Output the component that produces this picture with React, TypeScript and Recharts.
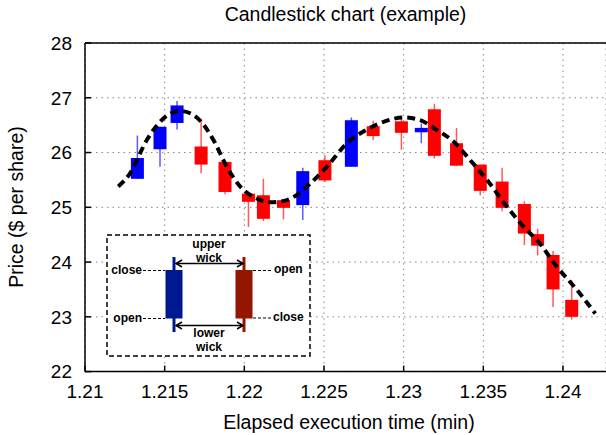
import {
  Bar,
  CartesianGrid,
  ComposedChart,
  Customized,
  Line,
  XAxis,
  YAxis
} from 'recharts';

const times = [
  1.21329, 1.21471, 1.21578, 1.21729, 1.21879, 1.22026, 1.2212, 1.22246, 1.22367, 1.22506, 1.22672,
  1.22809, 1.22986, 1.23111, 1.23193, 1.23332, 1.23481, 1.23618, 1.23758, 1.23841, 1.23938, 1.24055
];
const opens = [
  25.52, 26.06, 26.54, 26.11, 25.83, 25.25, 25.22, 25.13, 25.04, 25.86, 25.74,
  26.48, 26.57, 26.37, 26.79, 26.17, 25.78, 25.47, 25.06, 24.51, 24.13, 23.31
];
const highs = [
  26.31, 26.47, 26.94, 26.58, 25.83, 25.25, 25.52, 25.13, 25.72, 25.95, 26.64,
  26.58, 26.63, 26.53, 26.89, 26.45, 25.78, 25.72, 25.11, 24.61, 24.2, 23.67
];
const lows = [
  25.52, 25.74, 26.42, 25.62, 25.24, 24.64, 24.75, 24.78, 24.77, 25.46, 25.74,
  26.23, 26.05, 26.17, 25.89, 25.76, 25.22, 24.93, 24.31, 24.12, 23.18, 22.95
];
const closes = [
  25.9, 26.47, 26.86, 25.78, 25.28, 25.1, 24.79, 24.99, 25.66, 25.49, 26.59,
  26.3, 26.36, 26.45, 25.94, 25.76, 25.3, 24.99, 24.52, 24.3, 23.5, 23.0
];

// dashed trend curve
const fitTimes = [
  1.21209, 1.21283, 1.21388, 1.21492, 1.21597, 1.21702, 1.21806, 1.2189, 1.21974, 1.22078,
  1.22162, 1.22267, 1.22393, 1.22518, 1.22644, 1.22769, 1.22874, 1.22999, 1.23104, 1.23209,
  1.23313, 1.23418, 1.23523, 1.23649, 1.23774, 1.23837, 1.23963, 1.24088, 1.24203
];
const fitPrices = [
  25.38, 25.62, 26.23, 26.62, 26.76, 26.64, 26.23, 25.74, 25.38, 25.16,
  25.09, 25.13, 25.38, 25.74, 26.17, 26.42, 26.56, 26.64, 26.59, 26.41,
  26.2, 25.86, 25.5, 25.01, 24.58, 24.4, 23.91, 23.49, 23.06
];

const xTicks = [1.21, 1.215, 1.22, 1.225, 1.23, 1.235, 1.24];
const yTicks = [22, 23, 24, 25, 26, 27, 28];
const xDomain = [1.21, 1.2427];

const candles = times.map((t, i) => ({
  t,
  body: [Math.min(opens[i], closes[i]), Math.max(opens[i], closes[i])],
  wick: [lows[i], highs[i]],
  up: closes[i] > opens[i]
}));
const fit = fitTimes.map((t, i) => ({ t, p: fitPrices[i] }));

const FONT = '"Liberation Sans", Arial, Helvetica, sans-serif';
const tickStyle = { fontFamily: FONT, fontSize: 19, fill: '#000' };
const BODY_W = 13;

// bar spans low..high; body is placed inside it with the same px/unit
function Candle(props: any) {
  const { x, y, width, height, payload } = props;
  if (payload == null) return null;
  const [lo, hi] = payload.wick;
  const [bLo, bHi] = payload.body;
  const top = Math.min(y, y + height);
  const h = Math.abs(height);
  const k = h / (hi - lo);
  const bodyTop = top + (hi - bHi) * k;
  const bodyH = Math.max((bHi - bLo) * k, 1);
  const cx = x + width / 2;
  const col = payload.up ? '#0000ff' : '#ff0000';
  return (
    <g>
      <line x1={cx} x2={cx} y1={top} y2={top + h} stroke={col} strokeOpacity={0.65} strokeWidth={1.5} />
      <rect x={cx - BODY_W / 2} y={bodyTop} width={BODY_W} height={bodyH} fill={col} />
    </g>
  );
}

function Texts() {
  const t = { fontFamily: FONT, fontSize: 19.5, fill: '#000' };
  return (
    <g>
      <text x={345.5} y={21} textAnchor="middle" {...t}>Candlestick chart (example)</text>
      <text x={349} y={429} textAnchor="middle" {...t}>Elapsed execution time (min)</text>
      <text transform="translate(23,207) rotate(-90)" textAnchor="middle" {...t}>Price ($ per share)</text>
    </g>
  );
}

function Arrow({ y }: { y: number }) {
  return (
    <g stroke="#000" strokeWidth={1.5} fill="none">
      <line x1={176} x2={243} y1={y} y2={y} />
      <path d={`M182,${y - 3.5} L176,${y} L182,${y + 3.5}`} />
      <path d={`M237,${y - 3.5} L243,${y} L237,${y + 3.5}`} />
    </g>
  );
}

function LegendBox() {
  const lbl = { fontFamily: FONT, fontSize: 12, fontWeight: 'bold' as const, fill: '#000' };
  const dash = { stroke: '#000', strokeWidth: 1.2, strokeDasharray: '3 2' };
  return (
    <g>
      <rect x={107} y={235} width={203} height={121} fill="#fff" stroke="#000" strokeWidth={1.5} strokeDasharray="5 3" />
      <line x1={174} x2={174} y1={257} y2={332} stroke="#00188f" strokeWidth={3} />
      <rect x={165.5} y={270} width={17} height={48.5} fill="#00188f" />
      <line x1={244} x2={244} y1={257} y2={332} stroke="#941500" strokeWidth={3} />
      <rect x={235.5} y={270} width={17} height={48.5} fill="#941500" />
      <line x1={143} x2={165} y1={270.5} y2={270.5} {...dash} />
      <line x1={143} x2={165} y1={318.5} y2={318.5} {...dash} />
      <line x1={253} x2={273} y1={270.5} y2={270.5} {...dash} />
      <line x1={253} x2={272} y1={318} y2={318} {...dash} />
      <text x={142} y={274} textAnchor="end" {...lbl}>close</text>
      <text x={142} y={322} textAnchor="end" {...lbl}>open</text>
      <text x={274} y={273} {...lbl}>open</text>
      <text x={273} y={321} {...lbl}>close</text>
      <text x={209} y={248} textAnchor="middle" {...lbl}>upper</text>
      <text x={209} y={261.5} textAnchor="middle" {...lbl}>wick</text>
      <text x={209} y={336.5} textAnchor="middle" {...lbl}>lower</text>
      <text x={209} y={350.5} textAnchor="middle" {...lbl}>wick</text>
      <Arrow y={263.5} />
      <Arrow y={325.5} />
    </g>
  );
}

export default function App() {
  return (
    <div style={{ position: 'absolute', left: 0, top: 0, background: '#fff' }}>
      <ComposedChart
        width={606}
        height={435}
        data={candles}
        margin={{ top: 0, right: 0, bottom: 0, left: 0 }}
      >
        <CartesianGrid xAxisId="main" stroke="#888" strokeDasharray="1.5 4" />
        <XAxis
          xAxisId="main"
          dataKey="t"
          type="number"
          domain={xDomain}
          allowDataOverflow
          ticks={xTicks}
          height={63.4}
          tick={tickStyle}
          tickSize={-6}
          tickMargin={19}
          stroke="#000"
          strokeWidth={1.5}
        />
        <XAxis
          xAxisId="top"
          orientation="top"
          dataKey="t"
          type="number"
          domain={xDomain}
          allowDataOverflow
          ticks={xTicks}
          height={43}
          tick={false}
          tickSize={-6}
          stroke="#000"
          strokeWidth={1.5}
        />
        <XAxis
          xAxisId="fit"
          dataKey="t"
          type="number"
          domain={xDomain}
          allowDataOverflow
          height={0}
          hide
        />
        <YAxis
          type="number"
          domain={[22, 28]}
          ticks={yTicks}
          width={85}
          tick={tickStyle}
          tickSize={-6}
          tickMargin={19}
          stroke="#000"
          strokeWidth={1.5}
        />
        <Bar
          xAxisId="main"
          dataKey="wick"
          barSize={BODY_W}
          shape={Candle}
          isAnimationActive={false}
        />
        <Line
          xAxisId="fit"
          data={fit}
          dataKey="p"
          type="monotone"
          stroke="#000"
          strokeWidth={4}
          strokeDasharray="8 5"
          dot={false}
          isAnimationActive={false}
        />
        <Customized component={LegendBox} />
        <Customized component={Texts} />
      </ComposedChart>
    </div>
  );
}
